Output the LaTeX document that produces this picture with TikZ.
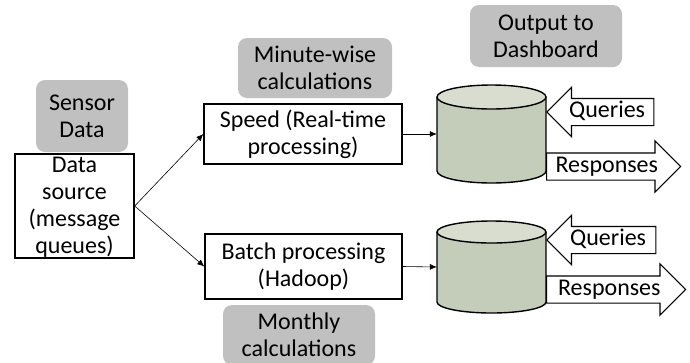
\documentclass[tikz,border=0pt]{standalone}
\usepackage{fontspec}
\setmainfont{Carlito}
\usetikzlibrary{shapes.arrows,arrows.meta}
\definecolor{notegray}{RGB}{192,192,192}
\definecolor{dbbody}{RGB}{196,204,186}
\definecolor{dbtop}{RGB}{216,221,208}
\begin{document}
\begin{tikzpicture}[x=1pt, y=-1pt, font=\fontsize{24}{27}\selectfont]

\tikzstyle{note}=[rectangle, rounded corners=9pt, fill=notegray, inner sep=0pt, align=center]
\tikzstyle{stage}=[rectangle, draw, line width=1.4pt, inner sep=0pt, align=center]
\tikzstyle{store}=[rectangle, minimum width=109pt, minimum height=98pt, inner sep=0pt]
\tikzstyle{can}=[draw, line width=1.4pt]
\tikzstyle{fat}=[single arrow, draw, line width=1.2pt, fill=white, inner xsep=2pt, inner ysep=3.5pt, text height=15pt, text depth=4pt]
\tikzstyle{arrow}=[-{Latex[length=7pt,width=6pt]}, line width=0.6pt]

\useasboundingbox (0,0) rectangle (690,362);

% sources and stages
\node (sensor) [note, minimum width=92pt, minimum height=72pt] at (82,116) {Sensor\\Data};
\node (src) [stage, minimum width=119pt, minimum height=104pt] at (74.5,206)
  {\smash{\raisebox{-7pt}{\parbox[c]{119pt}{\centering Data\\source\\(message\\queues)}}}};

\node (minute) [note, minimum width=154pt, minimum height=60pt] at (315,68) {Minute-wise\\calculations};
\node (speed) [stage, minimum width=198pt, minimum height=60pt] at (303,134) {Speed (Real-time\\processing)};

\node (batch) [stage, minimum width=197pt, minimum height=65pt] at (303.5,266.5) {Batch processing\\(Hadoop)};
\node (monthly) [note, minimum width=152pt, minimum height=60pt] at (299,335) {Monthly\\calculations};

% outputs
\node (dash) [note, minimum width=152pt, minimum height=62pt] at (546,36) {Output to\\Dashboard};

\node (db1) [store] at (491.5,134) {};
\filldraw [can, fill=dbbody] (437,97) -- (437,171) arc[start angle=180, end angle=0, x radius=54.5, y radius=12] -- (546,97);
\filldraw [can, fill=dbtop] (491.5,97) ellipse [x radius=54.5, y radius=12];

\node (db2) [store] at (491.5,267) {};
\filldraw [can, fill=dbbody] (437,232) -- (437,302) arc[start angle=180, end angle=0, x radius=54.5, y radius=11] -- (546,232);
\filldraw [can, fill=dbtop] (491.5,232) ellipse [x radius=54.5, y radius=11];

\node (q1) [fat, shape border rotate=180, single arrow head extend=11pt, minimum height=107pt, anchor=tip] at (546,112) {Queries};
\node (r1) [fat, single arrow head extend=12pt, minimum height=134pt, anchor=tail] at (546,166.5) {Responses};
\node (q2) [fat, shape border rotate=180, single arrow head extend=11pt, minimum height=109pt, anchor=tip] at (546,240) {Queries};
\node (r2) [fat, single arrow head extend=12pt, minimum height=139pt, anchor=tail] at (546,289.5) {Responses};

\draw [arrow] (src.east) -- (speed.west);
\draw [arrow] (src.east) -- (batch.west);
\draw [arrow] (speed.east) -- (db1.west);
\draw [arrow] (batch.east) -- (db2.west);

\end{tikzpicture}
\end{document}
